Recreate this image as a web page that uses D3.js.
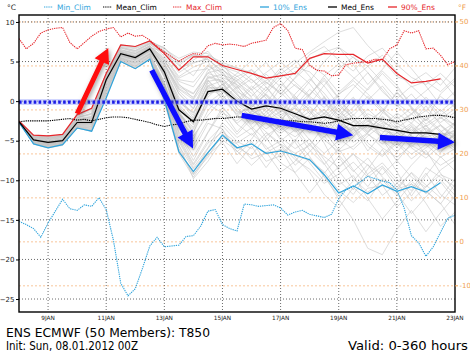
<!DOCTYPE html>
<html>
<head>
<meta charset="utf-8">
<script src="https://cdn.jsdelivr.net/npm/d3@7"></script>
<style>
  body { margin: 0; background: #fff; }
  svg text { font-family: "DejaVu Sans", sans-serif; }
</style>
</head>
<body>
<div id="chart"></div>
<script>
// ---- data ----
// ensemble statistics, every 12 h from 0 to 348 h
const ensHours = d3.range(0, 349, 12);
const medEns = [-2.6,-4.9,-5.2,-5.0,-2.7,-2.7,2.7,6.0,5.5,6.6,3.7,-1.1,-2.6,1.2,1.5,0.0,-1.0,-0.6,-0.9,-1.6,-2.3,-2.0,-2.4,-3.1,-3.1,-3.4,-3.7,-4.0,-4.0,-4.2];
const ens10 = [-2.7,-5.4,-5.9,-5.5,-3.4,-3.8,0.4,5.0,4.1,5.3,0.2,-6.4,-8.9,-6.5,-4.3,-5.9,-5.4,-6.6,-6.3,-6.8,-7.4,-9.3,-11.6,-10.7,-11.7,-10.6,-11.4,-10.8,-11.5,-10.3];
const ens90 = [-2.5,-4.3,-4.4,-4.2,-1.7,-0.9,3.5,7.1,6.9,7.6,6.0,3.9,5.6,5.6,4.5,4.0,3.5,2.9,3.2,3.5,5.4,6.0,5.9,5.9,4.8,5.3,3.5,2.3,2.5,2.8];

// climatology, every 6 h from 0 to 360 h
const climHours = d3.range(0, 361, 6);
const minClim = [-15.2,-15.6,-16.1,-17.2,-15.4,-13.9,-12.4,-13.6,-13.8,-13.1,-13.3,-12.2,-13.7,-17.6,-23.0,-24.6,-23.7,-21.1,-18.3,-17.2,-18.4,-18.3,-18.2,-17.1,-17.0,-15.8,-13.9,-13.7,-15.6,-16.1,-16.4,-13.0,-13.1,-13.3,-13.2,-13.1,-13.5,-14.4,-14.0,-13.8,-14.3,-14.5,-14.7,-14.3,-12.3,-11.2,-10.8,-10.2,-9.5,-9.8,-10.1,-10.3,-11.2,-13.5,-17.0,-17.9,-19.6,-18.4,-16.6,-14.8,-14.4];
const meanClim = [-2.6,-2.5,-2.5,-2.5,-2.5,-2.4,-2.3,-2.2,-2.4,-2.3,-2.5,-2.3,-2.1,-2.0,-2.0,-2.1,-2.3,-2.5,-2.7,-3.0,-3.2,-3.0,-2.9,-2.6,-2.4,-2.4,-2.3,-2.2,-2.2,-2.1,-2.0,-2.0,-2.0,-2.1,-2.2,-2.3,-2.4,-2.5,-2.5,-2.6,-2.6,-2.7,-2.8,-2.7,-2.5,-2.3,-2.2,-2.2,-2.2,-2.2,-2.3,-2.4,-2.6,-2.4,-2.2,-2.0,-1.9,-1.8,-1.8,-1.9,-2.1];
const maxClim = [7.9,6.6,7.3,8.6,9.0,9.2,9.3,7.4,6.6,7.4,8.2,8.8,9.1,9.3,8.1,8.6,8.2,8.3,7.7,6.9,6.2,5.6,5.0,5.6,6.0,5.9,7.0,7.3,7.1,7.2,7.1,6.9,7.3,7.5,7.7,9.3,9.8,8.9,6.7,6.5,4.5,3.9,3.8,3.2,3.3,4.6,4.8,4.9,5.0,5.3,5.2,6.6,7.1,8.9,8.6,8.9,6.6,6.7,5.8,4.6,5.0];

// ensemble members, every 12 h from 0 to 360 h
const memberHours = d3.range(0, 361, 12);
const members = [
  [-2.6,-4.8,-5.1,-4.9,-2.5,-2.4,2.9,6.2,5.7,6.8,6.2,4.5,5.9,5.2,3.9,2.8,1.4,2.6,3.6,1.9,0.6,-0.8,0.9,2.1,0.4,-1.4,-2.8,-1.6,-3.2,-2.0,-3.6],
  [-2.5,-4.4,-4.6,-4.4,-2.0,-1.6,3.3,6.8,6.4,7.3,6.8,4.6,3.2,5.8,4.9,4.2,3.6,1.8,-0.3,-1.6,-0.4,2.0,4.1,5.6,3.6,1.2,-0.5,-2.4,-1.2,0.6,-0.8],
  [-2.7,-5.3,-5.8,-5.4,-3.3,-3.7,0.9,5.1,4.3,5.5,0.6,-6.0,-9.2,-7.1,-4.1,-5.8,-6.9,-4.4,-3.1,-5.2,-7.8,-10.1,-8.3,-6.6,-9.3,-11.9,-10.4,-8.1,-6.2,-9.1,-11.4],
  [-2.6,-5.0,-5.4,-5.1,-2.9,-2.8,2.3,5.7,5.2,6.3,3.5,-1.5,-4.0,0.5,2.2,-0.8,-3.2,-5.0,-2.8,0.6,-1.2,-3.8,-6.2,-4.5,-2.0,-4.8,-7.6,-5.3,-3.0,-5.8,-4.1],
  [-2.6,-4.9,-5.2,-5.0,-2.7,-2.6,2.7,6.0,5.5,6.6,4.0,0.5,-1.8,2.6,1.0,3.2,1.5,-1.2,-3.6,-1.9,0.8,2.9,0.4,-2.4,-4.0,-1.5,1.2,-0.9,-3.8,-6.0,-3.9],
  [-2.5,-4.6,-4.9,-4.6,-2.3,-2.0,3.1,6.5,6.0,7.0,5.3,2.2,0.3,3.9,4.8,2.0,-0.6,1.4,3.9,5.2,3.1,0.5,-2.3,-0.8,1.6,3.8,2.0,-0.7,-2.5,0.9,2.6],
  [-2.7,-5.2,-5.6,-5.3,-3.2,-3.4,1.5,5.4,4.7,5.8,1.9,-4.2,-7.5,-4.0,-1.2,-3.9,-1.8,-4.6,-7.2,-5.0,-2.6,-5.3,-8.8,-11.2,-8.6,-6.1,-8.9,-12.0,-9.4,-7.0,-8.8],
  [-2.6,-5.0,-5.3,-5.1,-2.8,-2.9,2.4,5.8,5.3,6.4,3.2,-2.5,-4.8,-1.2,0.9,-1.9,-0.3,1.8,-0.6,-3.3,-5.6,-3.1,-0.9,-3.4,-6.3,-4.1,-1.8,-4.4,-6.8,-4.9,-2.6],
  [-2.5,-4.5,-4.7,-4.4,-2.1,-1.5,3.4,6.9,6.6,7.4,6.1,3.9,5.2,6.3,4.1,1.8,3.3,4.9,2.6,0.2,2.5,5.0,6.8,4.6,2.1,4.0,6.2,4.1,1.9,-0.5,1.2],
  [-2.6,-4.9,-5.3,-5.0,-2.7,-2.8,2.6,5.9,5.4,6.5,3.9,-0.6,-2.9,1.6,1.8,0.3,-1.4,-0.1,-1.2,-2.0,-2.8,-1.5,-2.7,-3.6,-2.9,-3.8,-4.1,-3.6,-4.5,-4.0,-4.6],
  [-2.6,-5.1,-5.5,-5.2,-3.0,-3.1,1.9,5.5,4.9,6.0,2.4,-3.3,-6.2,-2.8,-3.5,-6.4,-4.8,-2.2,-4.9,-7.1,-9.0,-11.8,-13.5,-10.9,-12.6,-9.8,-11.6,-14.2,-12.1,-10.2,-12.5],
  [-2.5,-4.7,-5.0,-4.8,-2.4,-2.2,3.0,6.3,5.8,6.9,4.8,1.3,-0.5,2.9,3.4,1.6,2.8,0.7,-1.5,0.9,2.8,1.0,-1.3,0.5,-1.9,-3.3,-1.5,-2.8,-0.6,-3.0,-4.7],
  [-2.7,-5.4,-5.9,-5.6,-3.4,-3.8,0.6,5.0,4.1,5.3,0.0,-6.6,-9.6,-6.8,-5.2,-7.9,-5.7,-8.4,-6.0,-9.1,-11.6,-9.3,-12.4,-15.0,-18.6,-19.4,-16.2,-13.8,-16.5,-14.1,-12.0],
  [-2.6,-4.8,-5.2,-4.9,-2.6,-2.5,2.7,6.1,5.6,6.7,4.4,0.9,-1.0,3.2,2.5,-0.9,-2.6,-1.0,1.7,-0.4,-3.0,-4.6,-2.2,0.3,-2.3,-4.9,-6.5,-4.2,-2.0,-3.7,-5.5],
  [-2.6,-4.9,-5.3,-5.0,-2.8,-2.7,2.5,5.8,5.4,6.4,3.1,-1.8,-3.5,-0.2,1.1,2.6,0.4,-2.1,-0.5,-2.9,-1.8,0.6,-1.9,-4.5,-3.0,-1.1,-3.3,-5.8,-4.0,-2.1,-3.0],
  [-2.5,-4.5,-4.8,-4.5,-2.2,-1.9,3.2,6.7,6.2,7.2,5.7,3.1,4.3,5.0,2.0,3.5,5.1,3.0,0.8,2.9,4.6,3.3,1.1,2.8,4.4,2.4,0.3,1.9,0.2,-1.8,-0.4],
  [-2.7,-5.2,-5.7,-5.4,-3.2,-3.5,1.3,5.3,4.5,5.7,1.2,-5.1,-8.4,-5.9,-2.7,-4.6,-3.4,-6.1,-5.0,-3.6,-6.2,-8.0,-6.0,-8.7,-10.8,-8.4,-10.9,-9.1,-11.3,-13.0,-10.5],
  [-2.6,-5.0,-5.4,-5.1,-2.9,-2.9,2.2,5.7,5.1,6.2,3.6,-0.9,-2.2,2.0,0.4,-1.6,-0.8,0.9,-0.8,-1.4,-3.2,-2.5,-0.6,-2.1,-3.7,-2.8,-4.9,-3.3,-5.1,-6.5,-4.8],
  [-2.6,-4.8,-5.1,-4.8,-2.5,-2.3,2.8,6.2,5.7,6.8,4.6,1.8,0.9,3.5,2.9,0.8,-1.1,-2.5,-1.3,0.3,-1.0,-2.9,-4.4,-3.2,-1.6,-2.5,-3.9,-5.4,-4.1,-3.0,-4.4],
  [-2.5,-4.4,-4.5,-4.3,-1.8,-1.1,3.5,7.1,6.8,7.6,6.6,5.4,6.2,6.0,4.6,4.2,2.7,1.3,3.4,4.8,6.2,7.5,8.7,9.3,7.0,5.2,3.1,2.4,3.6,2.0,4.2],
  [-2.6,-5.1,-5.5,-5.2,-3.1,-3.2,1.8,5.4,4.8,5.9,2.0,-3.9,-7.0,-3.9,-0.8,-2.9,-4.3,-2.7,-4.6,-6.0,-4.8,-7.4,-10.0,-11.8,-9.2,-7.8,-9.9,-11.3,-8.4,-9.6,-10.8],
  [-2.6,-4.9,-5.2,-4.9,-2.6,-2.6,2.6,6.0,5.5,6.6,4.2,0.2,-2.1,1.0,1.3,-0.4,-2.0,-3.5,-2.3,-0.8,-2.4,-4.1,-1.8,-3.0,-5.3,-6.8,-5.0,-3.2,-4.7,-6.3,-5.1],
  [-2.5,-4.6,-4.8,-4.6,-2.3,-2.1,3.0,6.4,6.0,7.0,5.0,2.5,1.8,4.4,3.6,1.2,0.2,-1.4,0.6,2.1,0.4,-1.6,0.8,2.6,0.9,-0.9,-2.3,-0.9,-2.4,-1.1,-2.5],
  [-2.7,-5.3,-5.8,-5.5,-3.4,-3.7,0.8,5.1,4.2,5.4,0.4,-5.5,-9.8,-7.6,-4.9,-6.3,-8.1,-6.4,-9.0,-7.6,-5.3,-7.9,-10.6,-9.4,-12.3,-14.9,-12.7,-10.4,-12.9,-15.8,-14.0],
  [-2.6,-5.0,-5.3,-5.0,-2.8,-2.8,2.4,5.8,5.3,6.4,3.4,-1.3,-3.9,-0.4,-1.5,-2.5,-0.5,-1.9,-3.4,-4.5,-3.1,-1.6,-3.6,-5.2,-4.0,-2.4,-3.9,-5.9,-7.2,-5.6,-4.2],
  [-2.6,-4.8,-5.1,-4.9,-2.5,-2.4,2.8,6.1,5.7,6.8,5.1,2.7,2.4,4.6,3.0,2.1,0.6,2.4,1.1,-0.7,0.9,2.6,0.3,-1.8,0.1,1.9,-0.3,-1.6,0.5,-1.3,0.2],
  [-2.6,-4.9,-5.3,-5.1,-2.8,-2.7,2.5,5.9,5.4,6.5,3.0,-2.2,-4.4,-1.8,0.3,1.8,-0.1,-2.8,-4.1,-2.7,-4.9,-6.6,-5.0,-3.3,-5.7,-7.0,-5.3,-7.3,-5.9,-4.4,-6.0],
  [-2.5,-4.5,-4.7,-4.5,-2.1,-1.7,3.3,6.7,6.3,7.2,6.0,3.6,4.8,5.4,3.3,2.6,3.9,2.1,4.2,2.4,0.7,3.2,4.7,3.0,1.4,3.5,1.6,-0.2,1.3,2.9,0.6],
  [-2.7,-5.2,-5.6,-5.3,-3.1,-3.3,1.6,5.4,4.8,5.9,1.6,-4.6,-7.9,-5.0,-3.1,-5.1,-6.0,-4.0,-5.6,-8.1,-6.4,-4.4,-6.8,-8.9,-7.2,-9.6,-11.2,-9.0,-10.6,-12.2,-9.8],
  [-2.6,-5.0,-5.4,-5.1,-2.9,-3.0,2.1,5.6,5.0,6.1,3.3,-1.0,-2.7,2.3,0.7,-1.2,-2.9,-1.4,0.2,-1.8,-3.7,-2.0,-0.3,-2.2,-3.9,-1.9,-3.5,-5.0,-3.4,-4.9,-6.3],
  [-2.6,-4.9,-5.2,-5.0,-2.7,-2.6,2.7,6.0,5.5,6.6,4.1,0.0,-1.5,1.9,2.6,0.8,-0.7,0.8,-1.0,-2.6,-1.3,-3.3,-5.0,-3.5,-2.1,-4.4,-5.8,-4.0,-3.1,-4.7,-3.6],
  [-2.5,-4.7,-5.0,-4.7,-2.4,-2.2,3.0,6.3,5.9,6.9,5.5,2.9,3.8,4.1,1.4,-0.3,1.6,3.4,1.8,3.8,2.2,-0.2,-1.8,0.1,-2.6,-1.2,1.0,-0.8,-2.9,-1.6,-3.1],
  [-2.7,-5.3,-5.8,-5.5,-3.3,-3.6,1.1,5.2,4.4,5.6,0.9,-6.2,-9.0,-6.0,-3.6,-6.8,-5.1,-7.6,-6.9,-4.8,-7.0,-9.6,-12.0,-10.1,-8.0,-10.6,-13.4,-11.5,-9.1,-11.8,-13.1],
  [-2.6,-5.0,-5.3,-5.0,-2.8,-2.8,2.4,5.8,5.3,6.4,3.7,-0.4,-2.4,1.3,1.6,-1.4,-0.9,-2.4,-3.8,-2.4,-0.7,-2.2,-3.9,-2.6,-4.2,-5.4,-4.0,-2.8,-4.3,-3.1,-4.9],
  [-2.6,-4.8,-5.1,-4.8,-2.5,-2.4,2.9,6.2,5.6,6.7,4.7,1.0,-0.9,2.5,2.8,1.0,-1.8,-0.3,2.2,0.6,-1.6,0.4,-1.4,-2.6,-1.0,-2.7,-3.4,-2.1,-3.6,-4.8,-2.9],
  [-2.5,-4.4,-4.6,-4.3,-1.9,-1.3,3.4,7.0,6.7,7.5,6.4,4.8,5.7,5.6,4.3,3.7,2.3,3.6,5.0,3.3,5.9,6.9,5.2,3.8,5.7,6.7,4.6,3.0,2.1,3.5,1.8],
  [-2.6,-5.1,-5.5,-5.2,-3.0,-3.2,1.9,5.5,4.9,6.0,2.3,-3.5,-5.6,-2.4,-1.9,-4.2,-2.2,-3.9,-5.4,-6.6,-5.6,-7.0,-8.4,-6.7,-8.1,-9.3,-7.5,-9.6,-10.9,-8.7,-7.4],
  [-2.6,-4.9,-5.3,-5.0,-2.7,-2.7,2.6,5.9,5.4,6.5,3.8,-0.8,-2.5,0.8,2.1,0.5,-1.2,-2.2,-0.7,-1.9,-2.2,-1.0,-2.9,-3.8,-3.2,-4.6,-3.1,-4.4,-5.3,-4.2,-5.7],
  [-2.5,-4.6,-4.9,-4.6,-2.3,-2.0,3.1,6.5,6.1,7.0,5.2,2.0,1.0,3.6,4.0,2.4,1.0,-0.8,-2.0,-0.6,1.5,-0.2,-2.5,-1.3,0.6,-1.1,-2.9,-1.7,0.0,-2.2,-1.0],
  [-2.7,-5.2,-5.6,-5.3,-3.2,-3.4,1.4,5.3,4.6,5.7,1.4,-4.9,-8.1,-5.3,-3.9,-5.3,-4.1,-5.7,-7.8,-9.0,-7.2,-9.1,-7.0,-9.8,-11.5,-10.0,-11.9,-10.1,-11.7,-9.9,-11.9],
  [-2.6,-4.8,-5.2,-4.9,-2.6,-2.5,2.7,6.1,5.6,6.7,4.5,1.5,0.2,2.7,0.2,-1.7,-3.5,-1.7,-0.3,-2.3,-4.0,-2.8,-4.7,-6.1,-4.4,-3.0,-5.2,-6.7,-5.5,-7.1,-6.0],
  [-2.6,-4.9,-5.2,-5.0,-2.7,-2.6,2.6,6.0,5.5,6.6,3.6,-0.2,-1.4,1.8,1.4,-0.2,-1.6,-0.8,-2.5,-3.1,-2.0,-3.4,-2.2,-4.1,-2.5,-3.5,-4.5,-3.0,-4.9,-5.6,-4.3],
  [-2.5,-4.5,-4.7,-4.4,-2.1,-1.6,3.3,6.8,6.4,7.3,6.3,4.1,4.9,5.3,3.7,1.5,-0.8,1.0,2.9,4.3,3.7,1.9,-0.5,1.6,3.6,1.5,-0.7,0.9,-1.2,-2.7,-1.4],
  [-2.7,-5.3,-5.7,-5.4,-3.3,-3.6,1.2,5.2,4.4,5.6,1.0,-5.6,-8.6,-6.4,-4.6,-5.4,-7.3,-6.5,-5.5,-7.4,-8.6,-10.4,-9.2,-7.7,-9.6,-8.2,-10.3,-12.6,-10.8,-9.3,-10.1],
  [-2.6,-5.0,-5.4,-5.1,-2.9,-2.9,2.3,5.7,5.2,6.3,3.3,-1.6,-3.3,0.2,-0.7,-2.8,-1.3,0.3,-1.9,-3.9,-2.9,-4.9,-6.4,-5.7,-4.1,-5.9,-7.1,-5.6,-6.6,-8.1,-7.0],
  [-2.6,-4.8,-5.1,-4.9,-2.6,-2.4,2.8,6.1,5.6,6.7,4.8,1.6,0.5,3.0,2.4,0.1,1.9,0.4,-1.7,-0.9,-2.6,-1.1,-3.3,-1.7,-3.5,-2.1,-2.8,-3.8,-2.3,-3.9,-2.7],
  [-2.5,-4.4,-4.5,-4.3,-1.8,-1.0,3.5,7.1,6.9,7.6,6.7,5.1,5.8,5.7,4.4,3.1,4.0,2.4,0.9,3.0,5.3,6.2,6.8,5.5,4.4,5.8,3.7,1.8,2.5,1.2,2.9],
  [-2.7,-5.4,-5.9,-5.5,-3.4,-3.8,0.5,5.0,4.1,5.3,-0.1,-6.3,-9.3,-6.6,-4.4,-6.0,-5.4,-6.7,-6.1,-6.9,-7.5,-8.9,-11.3,-12.8,-11.0,-10.7,-11.1,-10.5,-11.4,-12.9,-15.6],
  [-2.6,-5.0,-5.3,-5.1,-2.8,-2.8,2.4,5.8,5.3,6.4,3.4,-1.1,-3.0,0.9,1.7,-0.3,-1.0,-0.5,-1.1,-1.6,-2.4,-2.0,-2.6,-3.0,-3.3,-3.5,-3.8,-4.1,-3.9,-4.3,-4.0],
  [-2.6,-4.9,-5.3,-5.0,-2.7,-2.7,2.5,5.9,5.5,6.5,3.9,-1.2,-2.6,1.4,1.2,-0.1,-1.1,-0.7,-0.8,-1.5,-2.2,-2.1,-2.3,-3.2,-3.0,-3.3,-3.6,-4.0,-4.1,-4.2,-3.8]
];

// axis ticks and labels
const celsiusTicks = [10, 5, 0, -5, -10, -15, -20, -25];
const fahrenheitTicks = [50, 40, 30, 20, 10, 0, -10];
const dayTicks = [24, 72, 120, 168, 216, 264, 312, 360];
const dayLabels = ["9JAN", "11JAN", "13JAN", "15JAN", "17JAN", "19JAN", "21JAN", "23JAN"];
const freezingLevel = 0;

// hand-drawn arrows [hours, degC] -> [hours, degC]
const redArrows = [[[48, -1.6], [73.7, 6.7]]];
const blueArrows = [[[109.6, 3.9], [143.7, -6.0]], [[183.9, -1.8], [276, -4.3]], [[298, -4.6], [360, -5.2]]];

const legendItems = [
  {name: "Min_Clim",  color: "#2fa4dc", dash: "1.3,0.9", x: 44},
  {name: "Mean_Clim", color: "#000",    dash: "1.3,0.9", x: 103},
  {name: "Max_Clim",  color: "#e6262b", dash: "1.3,0.9", x: 173},
  {name: "10%_Ens",   color: "#2fa4dc", dash: null,      x: 260},
  {name: "Med_Ens",   color: "#000",    dash: null,      x: 328},
  {name: "90%_Ens",   color: "#e6262b", dash: null,      x: 388}
];

// ---- layout ----
const W = 470, H = 353;
const margin = {top: 15, right: 15, bottom: 41, left: 19};
const width = W - margin.left - margin.right;
const height = H - margin.top - margin.bottom;

const cyan = "#2fa4dc", red = "#e6262b", orange = "#f0a050";

const x = d3.scaleLinear().domain([0, 360]).range([0, width]);
const y = d3.scaleLinear().domain([-26.64, 10.88]).range([height, 0]);
const fToC = f => (f - 32) * 5 / 9;

const svg = d3.select("#chart").append("svg")
  .attr("width", W).attr("height", H);

const defs = svg.append("defs");
defs.append("clipPath").attr("id", "plotClip")
  .append("rect").attr("width", width).attr("height", height);
const shadow = defs.append("filter").attr("id", "shadow")
  .attr("x", "-30%").attr("y", "-30%").attr("width", "160%").attr("height", "160%");
shadow.append("feDropShadow")
  .attr("dx", 1.5).attr("dy", 1.5).attr("stdDeviation", 2)
  .attr("flood-color", "#555").attr("flood-opacity", 0.55);

const g = svg.append("g")
  .attr("transform", "translate(" + margin.left + "," + margin.top + ")");

// grid: fahrenheit (orange dashed)
g.append("g").selectAll("line")
  .data(fahrenheitTicks).join("line")
  .attr("x1", 0).attr("x2", width)
  .attr("y1", d => y(fToC(d))).attr("y2", d => y(fToC(d)))
  .attr("stroke", "#f6b882").attr("stroke-width", 0.8)
  .attr("stroke-dasharray", "2,2");

// grid: celsius (black dotted)
g.append("g").selectAll("line")
  .data(celsiusTicks).join("line")
  .attr("x1", 0).attr("x2", width)
  .attr("y1", d => y(d)).attr("y2", d => y(d))
  .attr("stroke", "#444").attr("stroke-width", 0.8)
  .attr("stroke-dasharray", "1,2");

// grid: days
g.append("g").selectAll("line")
  .data(dayTicks.slice(0, -1)).join("line")
  .attr("x1", d => x(d)).attr("x2", d => x(d))
  .attr("y1", 0).attr("y2", height)
  .attr("stroke", "#444").attr("stroke-width", 0.8)
  .attr("stroke-dasharray", "1,2");

const plot = g.append("g").attr("clip-path", "url(#plotClip)");

// ensemble members
const memberLine = d3.line()
  .x((d, i) => x(memberHours[i]))
  .y(d => y(d));
plot.append("g").selectAll("path")
  .data(members).join("path")
  .attr("d", memberLine)
  .attr("fill", "none")
  .attr("stroke", "#c2c2c2")
  .attr("stroke-opacity", 0.7)
  .attr("stroke-width", 0.8);

// climatology
const climLine = d3.line()
  .x((d, i) => x(climHours[i]))
  .y(d => y(d));
[[minClim, cyan], [meanClim, "#000"], [maxClim, red]].forEach(([s, c]) => {
  plot.append("path")
    .attr("d", climLine(s))
    .attr("fill", "none")
    .attr("stroke", c)
    .attr("stroke-width", 1.1)
    .attr("stroke-dasharray", "1.3,0.9");
});

// ensemble statistics
const ensLine = d3.line()
  .x((d, i) => x(ensHours[i]))
  .y(d => y(d));
[[ens10, cyan], [ens90, red], [medEns, "#000"]].forEach(([s, c]) => {
  plot.append("path")
    .attr("d", ensLine(s))
    .attr("fill", "none")
    .attr("stroke", c)
    .attr("stroke-width", 1.2);
});

// freezing level: heavy blue dots
plot.append("line")
  .attr("x1", 0).attr("x2", width)
  .attr("y1", y(freezingLevel) + 1).attr("y2", y(freezingLevel) + 1)
  .attr("stroke", "#9aa4ff").attr("stroke-opacity", 0.45)
  .attr("stroke-width", 6);
plot.append("line")
  .attr("x1", 0).attr("x2", width)
  .attr("y1", y(freezingLevel) + 1).attr("y2", y(freezingLevel) + 1)
  .attr("stroke", "#1c1ce6").attr("stroke-width", 3.2)
  .attr("stroke-dasharray", "2.6,2.3");

// arrows
function arrowPath(p0, p1, shaft, headW, headL) {
  const x0 = x(p0[0]), y0 = y(p0[1]), x1 = x(p1[0]), y1 = y(p1[1]);
  const len = Math.hypot(x1 - x0, y1 - y0);
  const ux = (x1 - x0) / len, uy = (y1 - y0) / len;
  const px = -uy, py = ux;
  const bx = x1 - ux * headL, by = y1 - uy * headL;
  const pts = [
    [x0 + px * shaft / 2, y0 + py * shaft / 2],
    [bx + px * shaft / 2, by + py * shaft / 2],
    [bx + px * headW / 2, by + py * headW / 2],
    [x1, y1],
    [bx - px * headW / 2, by - py * headW / 2],
    [bx - px * shaft / 2, by - py * shaft / 2],
    [x0 - px * shaft / 2, y0 - py * shaft / 2]
  ];
  return "M" + pts.map(p => p.join(",")).join("L") + "Z";
}
const arrows = g.append("g").attr("filter", "url(#shadow)");
redArrows.forEach(a => arrows.append("path")
  .attr("d", arrowPath(a[0], a[1], 5, 16, 15)).attr("fill", "#ff1010"));
blueArrows.forEach(a => arrows.append("path")
  .attr("d", arrowPath(a[0], a[1], 5.5, 17, 17)).attr("fill", "#1010ff"));

// frame
g.append("rect")
  .attr("width", width).attr("height", height)
  .attr("fill", "none").attr("stroke", "#000").attr("stroke-width", 1.4);

// left axis (celsius)
const yAxis = g.append("g")
  .call(d3.axisLeft(y).tickValues(celsiusTicks).tickSize(3).tickPadding(1.5).tickFormat(d3.format("d")));
yAxis.select(".domain").remove();
yAxis.selectAll("text").attr("font-size", 7).attr("fill", "#222").attr("font-family", "DejaVu Sans");

// right axis (fahrenheit)
const rAxis = g.append("g")
  .attr("transform", "translate(" + width + ",0)");
rAxis.selectAll("g").data(fahrenheitTicks).join("g")
  .attr("transform", d => "translate(0," + y(fToC(d)) + ")")
  .each(function(d) {
    const t = d3.select(this);
    t.append("line").attr("x2", 3).attr("stroke", orange);
    t.append("text").attr("x", 4.5).attr("dy", "0.32em")
      .attr("font-size", 7).attr("fill", orange).text(d);
  });

// bottom labels
g.append("g").selectAll("text")
  .data(dayTicks).join("text")
  .attr("x", d => x(d)).attr("y", height + 7.5)
  .attr("text-anchor", "middle")
  .attr("font-size", 5.8).attr("fill", "#222")
  .text((d, i) => dayLabels[i]);

// units
svg.append("text").attr("x", 7).attr("y", 10).attr("font-size", 7.5).attr("fill", "#222").text("°C");
svg.append("text").attr("x", 458).attr("y", 10).attr("font-size", 7.5).attr("fill", orange).text("°F");

// legend
const legend = svg.append("g").attr("transform", "translate(0,7)");
legendItems.forEach(it => {
  legend.append("line")
    .attr("x1", it.x).attr("x2", it.x + 9)
    .attr("stroke", it.color).attr("stroke-width", it.dash ? 1 : 1.3)
    .attr("stroke-dasharray", it.dash);
  legend.append("text")
    .attr("x", it.x + 13).attr("dy", "0.35em")
    .attr("font-size", 7.5).attr("fill", it.color)
    .text(it.name);
});

// titles
svg.append("text").attr("x", 6).attr("y", 337)
  .attr("font-size", 12).attr("textLength", 204).attr("lengthAdjust", "spacingAndGlyphs")
  .text("ENS ECMWF (50 Members): T850");
svg.append("text").attr("x", 6).attr("y", 350)
  .attr("font-size", 12).attr("textLength", 132).attr("lengthAdjust", "spacingAndGlyphs")
  .text("Init: Sun, 08.01.2012 00Z");
svg.append("text").attr("x", 348).attr("y", 350)
  .attr("font-size", 12).attr("textLength", 120).attr("lengthAdjust", "spacingAndGlyphs")
  .text("Valid: 0-360 hours");
</script>
</body>
</html>
